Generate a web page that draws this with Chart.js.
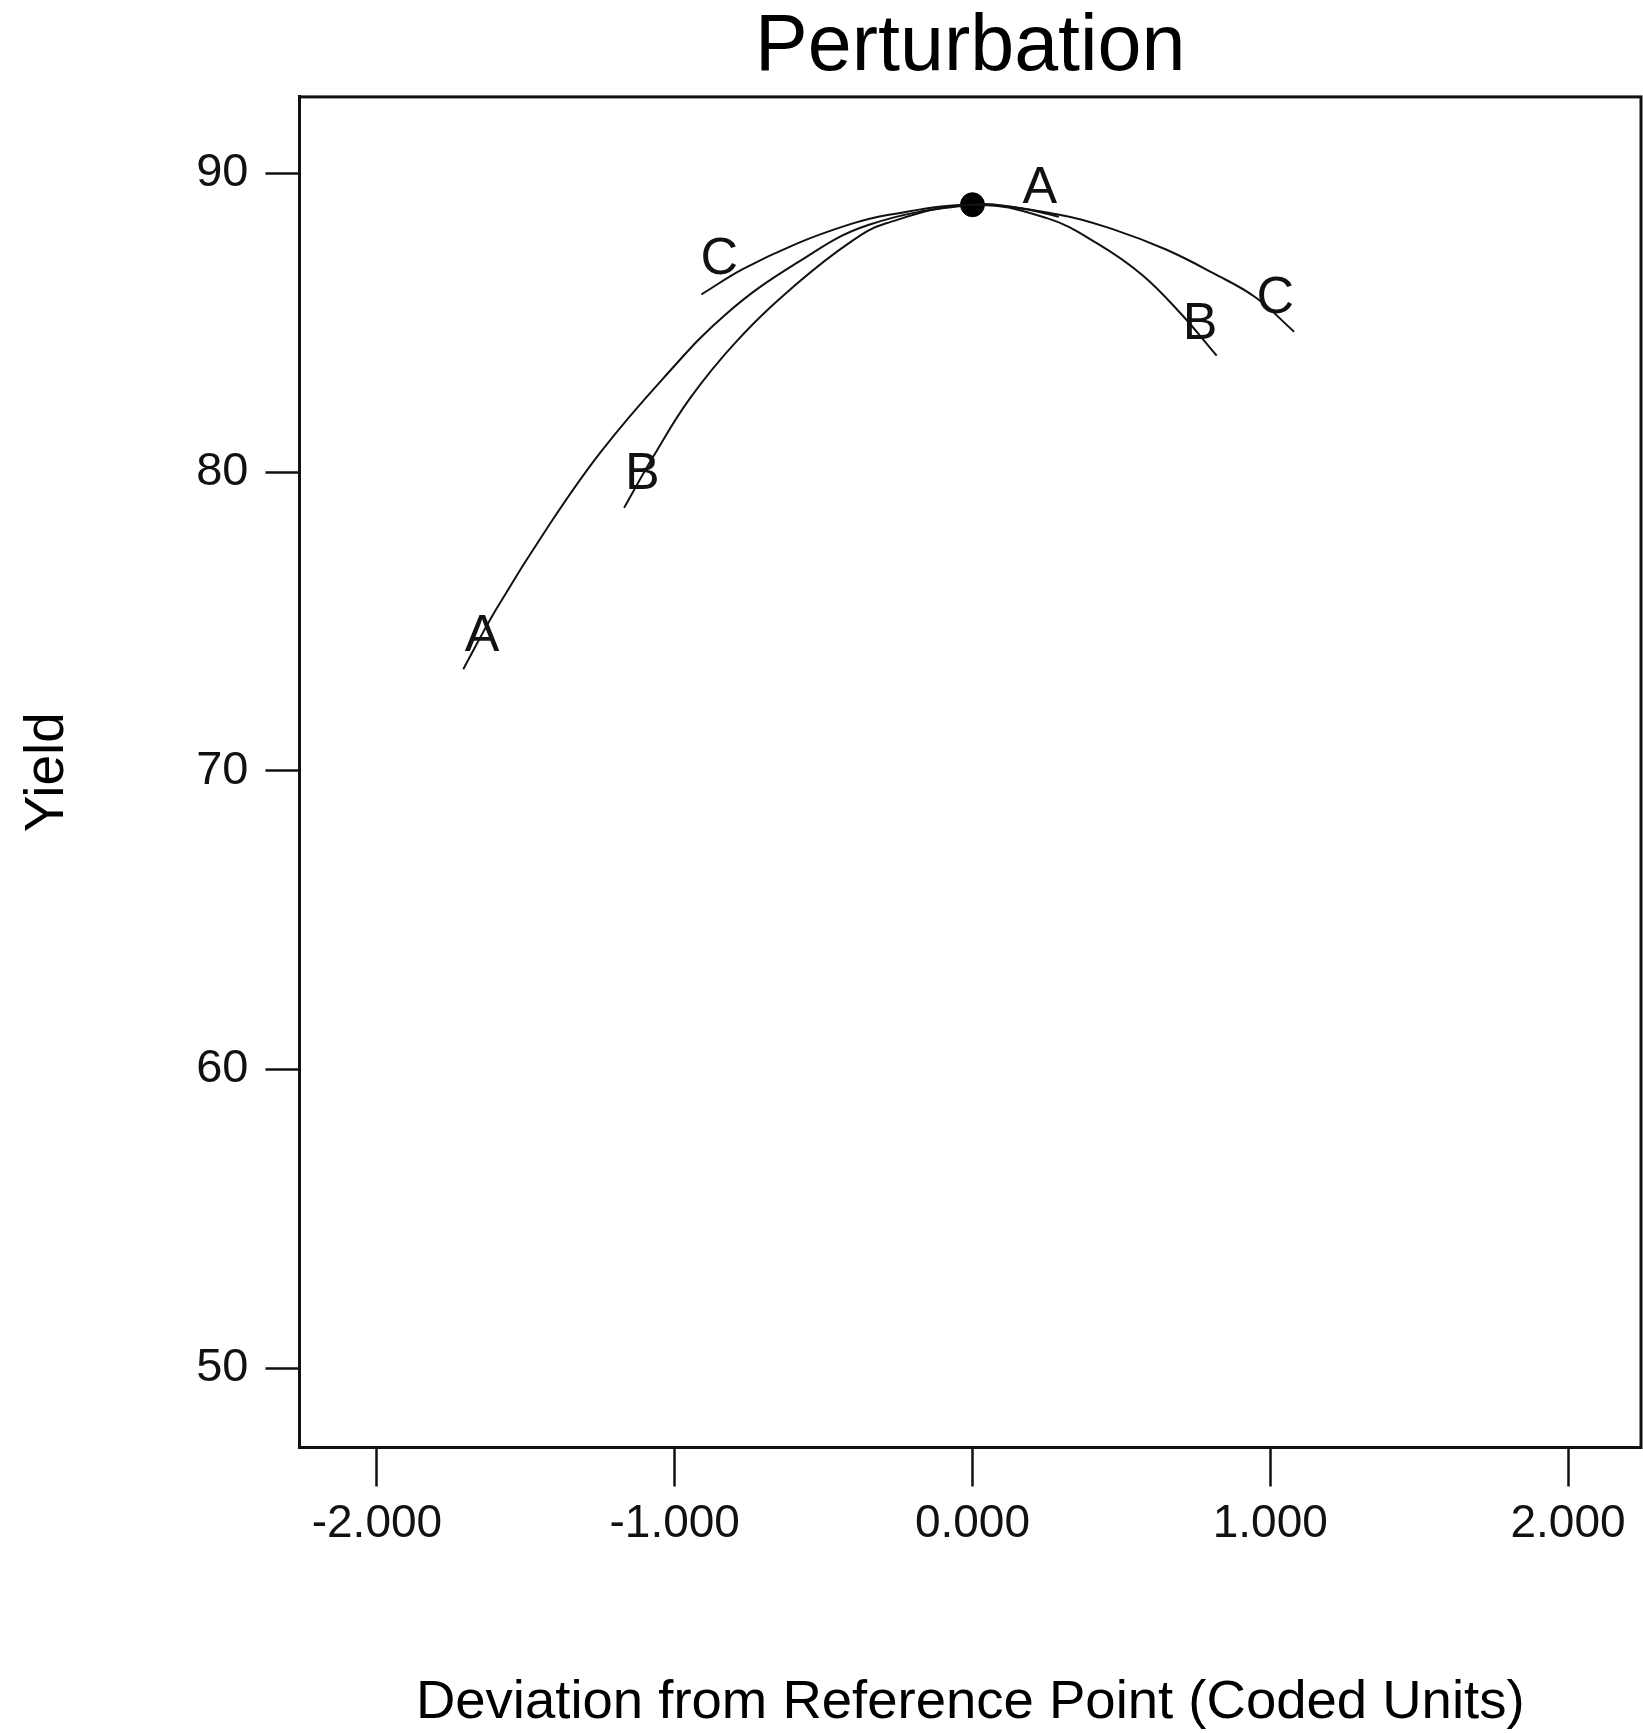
<!DOCTYPE html>
<html>
<head>
<meta charset="utf-8">
<script src="https://cdn.jsdelivr.net/npm/chart.js@4/dist/chart.umd.min.js"></script>
<style>
  html, body { margin: 0; padding: 0; background: #fff; overflow: hidden; }
  canvas { display: block; }
</style>
</head>
<body>
<canvas id="perturbationChart" width="1643" height="1733"></canvas>
<script>
// values (deviation in coded units vs yield)
const factorA_x = [-1.71, -1.60, -1.42, -1.25, -1.04, -0.83, -0.59, -0.35, 0.00, 0.15, 0.29];
const factorA_y = [73.4, 75.4, 78.25, 80.65, 83.12, 85.27, 87.0, 88.27, 88.95, 88.85, 88.55];

const factorB_x = [-1.17, -1.07, -0.95, -0.79, -0.59, -0.41, -0.29, 0.00, 0.25, 0.42, 0.57, 0.70, 0.82];
const factorB_y = [78.8, 80.55, 82.45, 84.4, 86.3, 87.7, 88.33, 88.95, 88.5, 87.65, 86.6, 85.3, 83.9];

const factorC_x = [-0.91, -0.77, -0.59, -0.41, -0.29, 0.00, 0.30, 0.48, 0.65, 0.81, 0.95, 1.08];
const factorC_y = [85.95, 86.8, 87.65, 88.3, 88.6, 88.95, 88.6, 88.1, 87.45, 86.65, 85.85, 84.7];

const refPoint = [0, 88.95];

// curve end labels: text, x, y (data units)
const endLabelText = ["A", "B", "C", "A", "B", "C"];
const endLabelX = [-1.647, -1.109, -0.85, 0.226, 0.764, 1.017];
const endLabelY = [74.5, 79.9, 87.1, 89.5, 84.95, 85.8];

const xTickValues = [-2, -1, 0, 1, 2];
const yTickValues = [50, 60, 70, 80, 90];

function toPoints(xs, ys) {
  return xs.map((x, i) => ({ x: x, y: ys[i] }));
}

const narrowFont = "'Liberation Sans Narrow', 'Arial Narrow', 'Liberation Sans', Arial, sans-serif";
const plainFont = "'Liberation Sans', Arial, sans-serif";

// box around the plot area + the A/B/C letters
const framePlugin = {
  id: "frame",
  afterDraw(chart) {
    const { ctx, chartArea, scales } = chart;
    ctx.save();
    ctx.strokeStyle = "#111";
    ctx.lineWidth = 3;
    ctx.strokeRect(chartArea.left, chartArea.top, chartArea.right - chartArea.left, chartArea.bottom - chartArea.top);

    ctx.fillStyle = "#111";
    ctx.font = "52px " + plainFont;
    ctx.textAlign = "center";
    ctx.textBaseline = "middle";
    endLabelText.forEach((t, i) => {
      ctx.fillText(t, scales.x.getPixelForValue(endLabelX[i]), scales.y.getPixelForValue(endLabelY[i]));
    });
    ctx.restore();
  }
};

const curveStyle = {
  borderColor: "#111",
  borderWidth: 2,
  pointRadius: 0,
  fill: false,
  tension: 0.4
};

const ctx = document.getElementById("perturbationChart").getContext("2d");
new Chart(ctx, {
  type: "line",
  data: {
    datasets: [
      Object.assign({ label: "A", data: toPoints(factorA_x, factorA_y) }, curveStyle),
      Object.assign({ label: "B", data: toPoints(factorB_x, factorB_y) }, curveStyle),
      Object.assign({ label: "C", data: toPoints(factorC_x, factorC_y) }, curveStyle),
      {
        type: "scatter",
        label: "Reference",
        data: [{ x: refPoint[0], y: refPoint[1] }],
        pointRadius: 12,
        pointBackgroundColor: "#000",
        pointBorderColor: "#000"
      }
    ]
  },
  plugins: [framePlugin],
  options: {
    responsive: false,
    animation: false,
    layout: { autoPadding: false, padding: { top: 0, right: 2, bottom: 0, left: 0 } },
    plugins: {
      legend: { display: false },
      tooltip: { enabled: false },
      title: {
        display: true,
        text: "Perturbation",
        fullSize: false,
        color: "#000",
        font: { family: plainFont, size: 79, weight: "normal", lineHeight: 1.1 },
        padding: { top: 5, bottom: 5 }
      }
    },
    scales: {
      x: {
        type: "linear",
        min: -2.26,
        max: 2.245,
        afterBuildTicks: (scale) => { scale.ticks = xTickValues.map(v => ({ value: v })); },
        afterFit: (scale) => {
          scale.height = 285.5;
          scale.paddingLeft = 0;
          scale.paddingRight = 0;
        },
        grid: { drawOnChartArea: false, tickLength: 39, tickWidth: 2.5, tickColor: "#111" },
        border: { display: true, color: "#111", width: 3 },
        ticks: {
          color: "#111",
          padding: 10,
          maxRotation: 0,
          font: { family: narrowFont, size: 46 },
          callback: (v) => v.toFixed(3)
        },
        title: {
          display: true,
          text: "Deviation from Reference Point (Coded Units)",
          color: "#000",
          font: { family: plainFont, size: 54.5, lineHeight: 1.1 },
          padding: { top: 0, bottom: 0 }
        }
      },
      y: {
        type: "linear",
        min: 47.34,
        max: 92.56,
        afterBuildTicks: (scale) => { scale.ticks = yTickValues.map(v => ({ value: v })); },
        afterFit: (scale) => { scale.width = 299.5; },
        grid: { drawOnChartArea: false, tickLength: 34, tickWidth: 2.5, tickColor: "#111" },
        border: { display: true, color: "#111", width: 3 },
        ticks: {
          color: "#111",
          padding: 17,
          font: { family: narrowFont, size: 47 },
          callback: (v) => String(v)
        },
        title: {
          display: true,
          text: "Yield",
          color: "#000",
          font: { family: plainFont, size: 55, lineHeight: 1.2 },
          padding: { top: 15, bottom: 0 }
        }
      }
    }
  }
});
</script>
</body>
</html>
